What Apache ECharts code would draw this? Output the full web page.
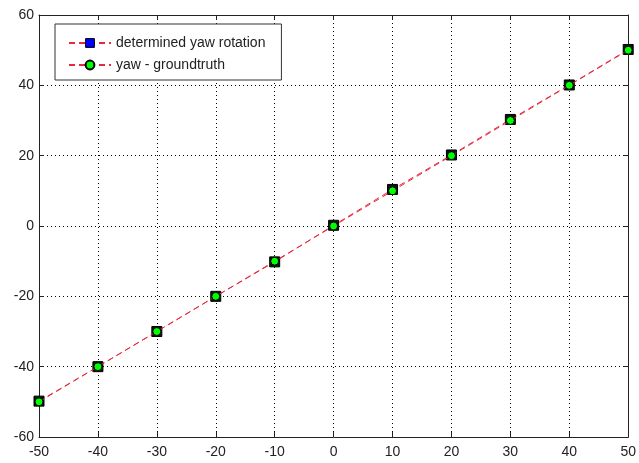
<!DOCTYPE html>
<html><head><meta charset="utf-8">
<script src="https://cdn.jsdelivr.net/npm/echarts@6/dist/echarts.min.js"></script>
<style>html,body{margin:0;padding:0;background:#fff}#c{width:639px;height:463px}</style>
</head><body><div id="c"></div>
<script>
const xValues = [-50, -40, -30, -20, -10, 0, 10, 20, 30, 40, 50];
const determinedYaw = [-49.8, -40, -30, -20, -10.2, 0.2, 10.4, 20.2, 30.3, 40.1, 50.2];
const groundtruthYaw = [-50, -40, -30, -20, -10, 0, 10, 20, 30, 40, 50];
const seriesNames = ['determined yaw rotation', 'yaw - groundtruth'];

const font = 'Liberation Sans, Arial, sans-serif';
const chart = echarts.init(document.getElementById('c'));
const axisCommon = {
  type: 'value',
  axisLine: {show: true, onZero: false, lineStyle: {color: '#222', width: 1}},
  axisTick: {show: true, inside: true, length: 5, lineStyle: {color: '#222'}},
  splitLine: {show: false}
};
chart.setOption({
  animation: false,
  backgroundColor: '#fff',
  grid: {left: 39, right: 6, top: 15, bottom: 26, containLabel: false},
  xAxis: [
    Object.assign({}, axisCommon, {min: -50, max: 50, interval: 10, position: 'bottom',
      axisLabel: {color: '#222', fontFamily: font, fontSize: 14, margin: 8},
      splitLine: {show: true, lineStyle: {color: '#000', type: [1, 3], width: 1}}}),
    Object.assign({}, axisCommon, {min: -50, max: 50, interval: 10, position: 'top', axisLabel: {show: false}})
  ],
  yAxis: [
    Object.assign({}, axisCommon, {min: -60, max: 60, interval: 20, position: 'left',
      axisLabel: {color: '#222', fontFamily: font, fontSize: 14, margin: 5},
      splitLine: {show: true, lineStyle: {color: '#000', type: [1, 3], width: 1}}}),
    Object.assign({}, axisCommon, {min: -60, max: 60, interval: 20, position: 'right', axisLabel: {show: false}})
  ],
  legend: {
    left: 55, top: 24, orient: 'vertical',
    padding: [12, 16, 8, 13],
    itemGap: 8,
    itemWidth: 42, itemHeight: 11,
    backgroundColor: '#fff',
    borderColor: '#333', borderWidth: 1,
    textStyle: {fontFamily: font, fontSize: 14, color: '#222', lineHeight: 14},
    data: [
      {name: seriesNames[0], itemStyle: {color: '#0000ff', borderColor: '#000', borderWidth: 1}},
      {name: seriesNames[1]}
    ]
  },
  series: [
    {
      name: seriesNames[0], type: 'line',
      data: xValues.map((x, i) => [x, determinedYaw[i]]),
      symbol: 'rect', symbolSize: 10,
      itemStyle: {color: '#101018', borderColor: '#000', borderWidth: 1},
      lineStyle: {color: '#e8283c', width: 1, type: [6, 4]},
      z: 2
    },
    {
      name: seriesNames[1], type: 'line',
      data: xValues.map((x, i) => [x, groundtruthYaw[i]]),
      symbol: 'circle', symbolSize: 8,
      itemStyle: {color: '#00ff00', borderColor: '#000', borderWidth: 1},
      lineStyle: {color: '#e8283c', width: 1, type: [6, 4]},
      z: 3
    }
  ]
});
</script></body></html>
